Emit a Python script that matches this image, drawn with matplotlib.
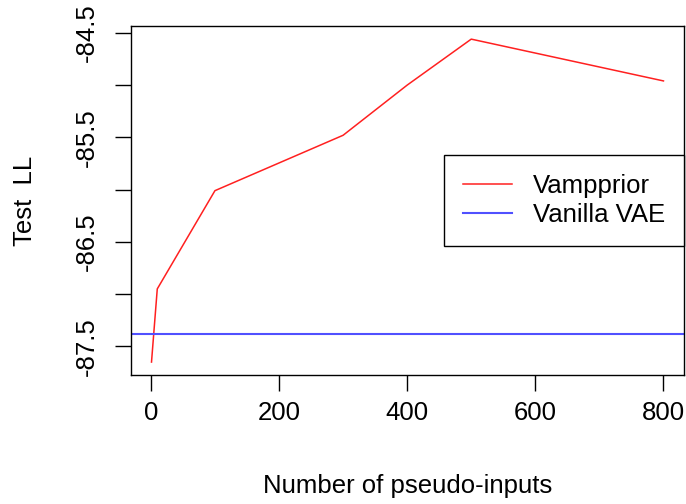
import numpy as np
import matplotlib
matplotlib.use('Agg')
import matplotlib.pyplot as plt

######################### Data ###########################
pseudo_inputs = [1, 10, 100, 300, 400, 500, 800]
vampprior_ll  = [-87.65, -86.95, -86.01, -85.48, -85.0, -84.56, -84.96]
vanilla_ll    = -87.38
x_ticks = [0, 200, 400, 600, 800]
y_ticks = [-87.5, -87.0, -86.5, -86.0, -85.5, -85.0, -84.5]
y_labels = ['-87.5', '', '-86.5', '', '-85.5', '', '-84.5']
##########################################################

plt.rcParams['font.family'] = ['Liberation Sans', 'DejaVu Sans']
FS = 18.5

fig = plt.figure(figsize=(6.86, 5.04), dpi=100)
ax = fig.add_axes([0.191, 0.256, 0.806, 0.692])

ax.plot(pseudo_inputs, vampprior_ll, color='#ff2020', linewidth=1.1, label='Vampprior')
ax.axhline(vanilla_ll, color='#5050ff', linewidth=1.5, label='Vanilla VAE')

# R style 4% padding
xs = np.array(pseudo_inputs)
ys = np.array(vampprior_ll)
xpad = 0.04 * (xs.max() - xs.min())
ypad = 0.04 * (ys.max() - ys.min())
ax.set_xlim(xs.min() - xpad, xs.max() + xpad)
ax.set_ylim(ys.min() - ypad, ys.max() + ypad)

ax.set_xticks(x_ticks)
ax.set_xticklabels([str(t) for t in x_ticks])
ax.set_yticks(y_ticks)
ax.set_yticklabels(y_labels, rotation=90, va='center')

ax.tick_params(axis='both', direction='out', length=11.5, width=1.0, labelsize=FS)
ax.tick_params(axis='x', pad=7.5)
ax.tick_params(axis='y', pad=12)

for s in ax.spines.values():
    s.set_linewidth(1.0)

ax.set_xlabel('Number of pseudo-inputs', fontsize=FS)
ax.set_ylabel('Test  LL', fontsize=FS)
ax.xaxis.set_label_coords(0.5, -0.285)
ax.yaxis.set_label_coords(-0.17, 0.5)

leg = ax.legend(loc='center right', borderaxespad=0, fontsize=FS, fancybox=False,
                edgecolor='black', framealpha=1, handlelength=1.9, handletextpad=0.8,
                borderpad=0.74, labelspacing=0.2)
leg.get_frame().set_linewidth(1.0)

fig.savefig('out.png', dpi=100)
